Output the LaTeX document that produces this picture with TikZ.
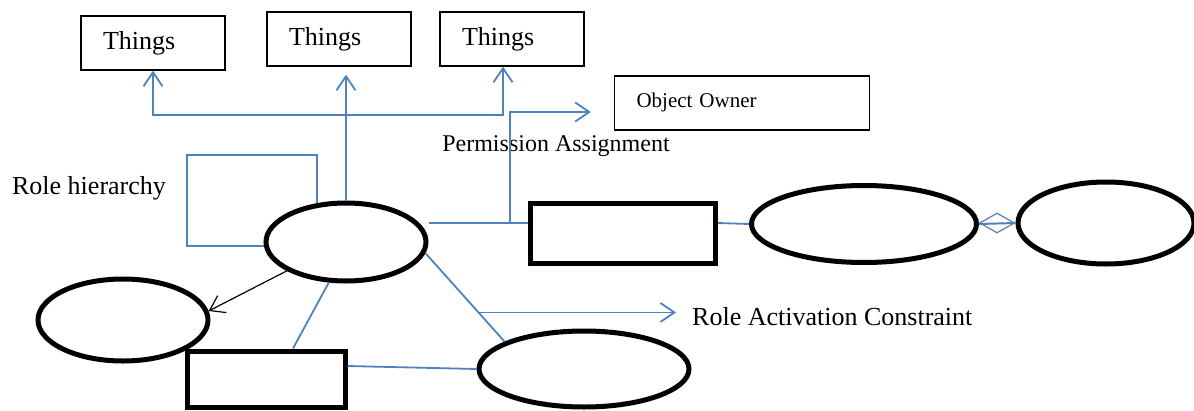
\documentclass[tikz,border=0pt]{standalone}
\usepackage{fontspec}
\setmainfont{Liberation Serif}
\usetikzlibrary{arrows.meta,shapes.geometric}
\definecolor{linkblue}{RGB}{79,129,189}
\newcommand\BoxH{54}

\begin{document}
\begin{tikzpicture}[x=1pt,y=-1pt,>={Straight Barb[length=14pt,width=19pt]},
                    font=\fontsize{26}{30}\selectfont]

  \tikzstyle{thingbox}=[rectangle,draw,line width=1.3pt,text width=100pt,inner xsep=22pt,
                        minimum height=\BoxH pt,align=left,text depth=5pt]
  \tikzstyle{rolebox}=[ellipse,draw,line width=5pt,inner sep=0pt]
  \tikzstyle{thickbox}=[rectangle,draw,line width=5pt,inner sep=0pt]
  \tikzstyle{bluelink}=[draw=linkblue,line width=1.8pt]
  \tikzstyle{txt}=[inner sep=0pt]

  \useasboundingbox (0,0) rectangle (1194,410);

  \node[thingbox] (th1) at (153,43) {Things};
  \node[thingbox] (th2) at (339,39) {Things};
  \node[thingbox] (th3) at (512,39) {Things};
  \node[thingbox,text width=211pt,font=\fontsize{21}{24}\selectfont]
                  (owner) at (742,103) {Object Owner};

  \node[rolebox,minimum width=160pt,minimum height=78pt] (role)  at (346,242)  {};
  \node[rolebox,minimum width=170pt,minimum height=82pt] (lefte) at (123,320)  {};
  \node[rolebox,minimum width=210pt,minimum height=76pt] (bell)  at (584,369)  {};
  \node[rolebox,minimum width=225pt,minimum height=77pt] (svc)   at (864,224)  {};
  \node[rolebox,minimum width=176pt,minimum height=82pt] (obj)   at (1106,223) {};
  \node[thickbox,minimum width=185pt,minimum height=60pt] (mrect) at (623,233) {};
  \node[thickbox,minimum width=158pt,minimum height=56pt] (brect) at (266,379) {};
  \node[diamond,draw=linkblue,line width=1.2pt,minimum width=35pt,minimum height=20pt,
        inner sep=0pt] (agg) at (997,223) {};

  \node[txt,font=\fontsize{24}{28}\selectfont]
                         (perm) at (556,146) {Permission Assignment};
  \node[txt]             (hier) at (89,188)  {Role hierarchy};
  \node[txt,anchor=west] (ract) at (692,317) {Role Activation Constraint};

  \coordinate (forkL) at (153,115);
  \coordinate (forkR) at (503,115);
  \coordinate (paj)   at (510,223);
  \coordinate (hloop) at (187,155);

  % things
  \draw[bluelink,<->] (th1.south) -- (forkL) -- (forkR) -- (forkR |- th3.south);
  \draw[bluelink,->,shorten >=8pt] (role.north) -- (role.north |- th2.south);

  % permission assignment
  \draw[bluelink] ([yshift=19pt]role.east) -- ([yshift=10pt]mrect.west);
  \draw[bluelink,->] (paj) |- ([xshift=-23pt,yshift=-9pt]owner.west);

  % role hierarchy
  \draw[bluelink] (role.127) |- (hloop) |- ([yshift=-4pt]role.west);

  \draw[->,line width=1.2pt] (role.206) -- (lefte.6);
  \draw[bluelink] (role.247) -- ([xshift=27pt]brect.north);
  \draw[bluelink] (role.352) -- coordinate[pos=0.67] (rac) (bell.161);
  \draw[bluelink,->,shorten >=16pt] (rac) -- (rac -| ract.west);
  \draw[bluelink] ([yshift=13pt]brect.east) -- (bell.west);
  \draw[bluelink] ([yshift=10pt]mrect.east) -- (svc.west);
  \draw[bluelink,line width=2pt] (svc.east) -- (obj.west);
\end{tikzpicture}
\end{document}
